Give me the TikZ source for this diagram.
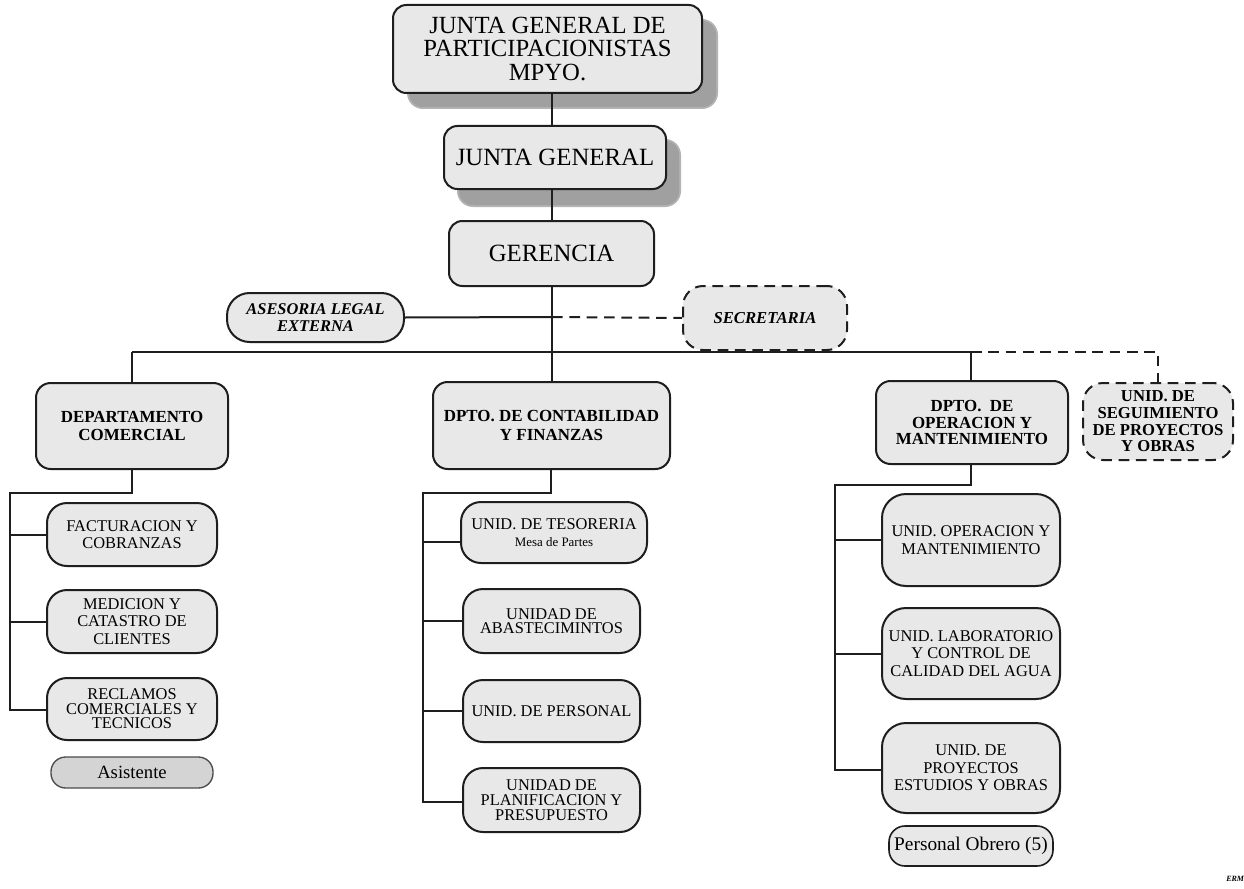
\documentclass[tikz,border=0pt]{standalone}
\usepackage{fontspec}
\setmainfont{Liberation Serif}
\definecolor{boxfill}{HTML}{E8E8E8}
\definecolor{asifill}{HTML}{D4D4D4}
\definecolor{shadowgray}{HTML}{A0A0A0}
\definecolor{edge}{HTML}{1E1E1E}
\begin{document}
\begin{tikzpicture}[x=0.75pt,y=-0.75pt,
  box/.style={draw=edge,line width=1.5pt,fill=boxfill,rounded corners=10pt,inner sep=0pt,align=center},
  subbox/.style={box,rounded corners=15pt,font=\fontsize{12.3}{13}\selectfont},
  deptbox/.style={box,rounded corners=11pt,font=\fontsize{12.7}{14}\selectfont\bfseries},
  dashbox/.style={box,dash pattern=on 8pt off 5pt},
  conn/.style={draw=edge,line width=1.5pt},
  dconn/.style={conn,dash pattern=on 8pt off 5pt},
  wh/.style 2 args={minimum width=#1pt,minimum height=#2pt}]
\useasboundingbox (0,0) rectangle (1244,888);
\fill[white] (0,0) rectangle (1244,888);
% shadows
\fill[shadowgray!80,rounded corners=12pt] (407,19) rectangle (718,109);
\fill[shadowgray,rounded corners=10pt] (409,21) rectangle (716,107);
\fill[shadowgray!80,rounded corners=12pt] (457,139) rectangle (681,207);
\fill[shadowgray,rounded corners=10pt] (459,141) rectangle (679,205);
% top
\node[box,wh={231.75}{66},font=\fontsize{18.5}{17.3}\selectfont] (top) at (547.5,49) {JUNTA GENERAL DE\\PARTICIPACIONISTAS\\MPYO.};
\node[box,wh={166.5}{47.25},font=\fontsize{18.6}{18}\selectfont] (jg) at (555,157.5) {JUNTA GENERAL};
\node[box,wh={153.75}{48.75},font=\fontsize{18.6}{18}\selectfont] (ger) at (551.5,253.5) {GERENCIA};
\node[box,wh={132.75}{36.75},rounded corners=17pt,font=\fontsize{12.3}{13}\selectfont\bfseries\itshape] (ase) at (315.5,317.5) {ASESORIA LEGAL\\EXTERNA};
\node[dashbox,wh={123}{48},rounded corners=15pt,font=\fontsize{12.5}{13}\selectfont\bfseries\itshape] (sec) at (765,318) {SECRETARIA};
% departments
\node[deptbox,wh={144}{64.5}] (dcom) at (132,426) {DEPARTAMENTO\\COMERCIAL};
\node[deptbox,wh={177.75}{65.25}] (dcf) at (551.5,425.5) {DPTO. DE CONTABILIDAD\\Y FINANZAS};
\node[deptbox,wh={144}{62.25},font=\fontsize{12.7}{12.5}\selectfont\bfseries] (dop) at (972,422.5) {DPTO.\ \ DE\\OPERACION Y\\MANTENIMIENTO};
\node[dashbox,wh={112.5}{57.75},rounded corners=15pt,font=\fontsize{12.5}{12.5}\selectfont\bfseries] (seg) at (1158,421.5) {UNID. DE\\SEGUIMIENTO\\DE PROYECTOS\\Y OBRAS};
% comercial units
\node[subbox,wh={127.5}{47.25}] (fac) at (132,534.5) {FACTURACION Y\\COBRANZAS};
\node[subbox,wh={127.5}{47.25}] (med) at (132,621.5) {MEDICION Y\\CATASTRO DE\\CLIENTES};
\node[subbox,wh={127.5}{46.5},font=\fontsize{12.3}{10.8}\selectfont] (rec) at (132,709) {RECLAMOS\\COMERCIALES Y\\TECNICOS};
\node[box,wh={121.5}{23.25},fill=asifill,line width=1pt,draw=edge!80,rounded corners=11pt,font=\fontsize{14}{14}\selectfont] (asi) at (132,772.5) {Asistente};
% finance units
\node[subbox,wh={139.5}{45.75}] (tes) at (554,532.5) {UNID. DE TESORERIA\\{\fontsize{9.7}{11}\selectfont Mesa de Partes}};
\node[subbox,wh={132.75}{48},font=\fontsize{12.3}{11}\selectfont] (aba) at (551.5,621) {UNIDAD DE\\ABASTECIMINTOS};
\node[subbox,wh={132.75}{46.5}] (per) at (551.5,711) {UNID. DE PERSONAL};
\node[subbox,wh={132.75}{48},font=\fontsize{12.3}{11}\selectfont] (pla) at (551.5,800) {UNIDAD DE\\PLANIFICACION Y\\PRESUPUESTO};
% operation units
\node[subbox,wh={133.5}{69},rounded corners=18pt] (uop) at (971,540) {UNID. OPERACION Y\\MANTENIMIENTO};
\node[subbox,wh={133.5}{68.25},rounded corners=18pt] (lab) at (971,653.5) {UNID. LABORATORIO\\Y CONTROL DE\\CALIDAD DEL AGUA};
\node[subbox,wh={133.5}{67.5},rounded corners=18pt] (pro) at (971,768) {UNID. DE\\PROYECTOS\\ESTUDIOS Y OBRAS};
\node[box,wh={123}{30},rounded corners=12pt,line width=1.2pt,font=\fontsize{14.5}{14}\selectfont] (obr) at (971,846) {Personal Obrero (5)};
% signature
\node[font=\fontsize{6}{6}\selectfont\bfseries\itshape,anchor=west,inner sep=0pt] (sig) at (1226,879) {ERM};
% coordinates
\coordinate (spine) at (552,0);
\coordinate (busL) at (132,352);
\coordinate (busC) at (552,352);
\coordinate (busR) at (971,352);
\coordinate (busD) at (1158,352);
\coordinate (aseJ) at (552,317);
\coordinate (c1) at (132,493);
\coordinate (c2) at (10,493);
\coordinate (c3) at (10,710);
\coordinate (f1) at (551,493);
\coordinate (f2) at (423,493);
\coordinate (f3) at (423,802);
\coordinate (t1) at (423,542);
\coordinate (o1) at (971,485);
\coordinate (o2) at (835,485);
\coordinate (o3) at (835,770);
% connectors
\draw[conn] (top.south -| spine) -- (jg.north -| spine);
\draw[conn] (jg.south -| spine) -- (ger.north -| spine);
\draw[conn] (ger.south -| spine) -- (busC);
\draw[conn] (busL) -- (busR);
\draw[dconn] (busR) -- (busD) -- (seg.north);
\draw[conn] (ase.east) -- (aseJ);
\draw[dconn] (aseJ) -- (sec.west);
\draw[conn] (busL) -- (dcom.north);
\draw[conn] (busC) -- (dcf.north -| busC);
\draw[conn] (busR) -- (dop.north -| busR);
\draw[conn] (dcom.south) -- (c1) -- (c2) -- (c3) -- (rec.west |- c3);
\draw[conn] (c2 |- fac.west) -- (fac.west);
\draw[conn] (c2 |- med.west) -- (med.west);
\draw[conn] (dcf.south -| f1) -- (f1) -- (f2) -- (f3) -- (pla.west |- f3);
\draw[conn] (t1) -- (tes.west |- t1);
\draw[conn] (f2 |- aba.west) -- (aba.west);
\draw[conn] (f2 |- per.west) -- (per.west);
\draw[conn] (dop.south -| o1) -- (o1) -- (o2) -- (o3) -- (pro.west |- o3);
\draw[conn] (o2 |- uop.west) -- (uop.west);
\draw[conn] (o2 |- lab.west) -- (lab.west);
\end{tikzpicture}
\end{document}
